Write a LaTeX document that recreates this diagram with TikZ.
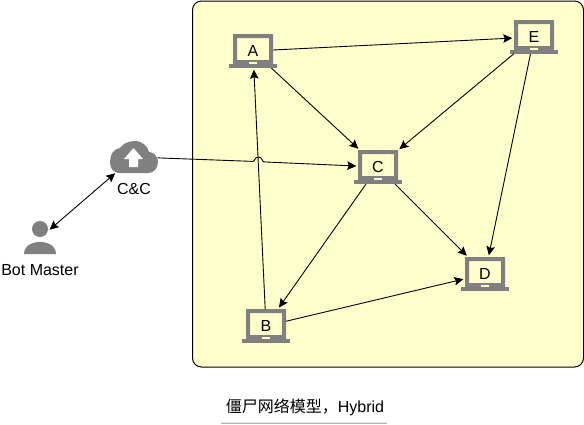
\documentclass[tikz,border=0pt]{standalone}
\usepackage{fontspec}
\setmainfont{Liberation Sans}
\newfontfamily\cjkfont{Noto Sans CJK SC}
\usepackage{xcolor}
\usetikzlibrary{arrows.meta, positioning}

\definecolor{iconfill}{HTML}{808080}
\definecolor{zonefill}{HTML}{FFFFCC}

\begin{document}
\begin{tikzpicture}[
    x=1pt, y=-1pt,
    font=\fontsize{16}{18}\selectfont,
    host/.style   = {rectangle, inner sep=0pt,
                     minimum width=40pt, minimum height=34pt},
    zone/.style   = {draw=black, fill=zonefill, line width=1pt,
                     rounded corners=9pt},
    arrow/.style  = {-{Stealth[length=9pt, width=8.5pt, inset=1.5pt]},
                     line width=0.9pt, shorten >=1.5pt},
    biarrow/.style = {{Stealth[length=9pt, width=8.5pt, inset=1.5pt]}-{Stealth[length=9pt, width=8.5pt, inset=1.5pt]},
                     line width=0.9pt},
    laptop/.pic   = {
        \fill[iconfill, even odd rule] (-20,-17) rectangle (20,13)
            (-16,-13) rectangle (16,9);
        \fill[iconfill] (-24,13) rectangle (24,17);
        \fill[iconfill] (-20,9) rectangle (20,13);
        \fill[zonefill] (-4,10.5) rectangle (4,12.5);
    }
]
\useasboundingbox (0,0) rectangle (584,424);

%% Network zone
\draw[zone] (192.5,1) rectangle (583.5,367);

%% Hosts
\pic at (253,51)  {laptop};
\pic at (534,37)  {laptop};
\pic at (378,167) {laptop};
\pic at (485,274) {laptop};
\pic at (266,326) {laptop};
\node[host] (hostA) at (253,51)  {A};
\node[host] (hostE) at (534,37)  {E};
\node[host] (hostC) at (378,167) {C};
\node[host] (hostD) at (485,274) {D};
\node[host] (hostB) at (266,326) {B};

%% C&C cloud
\fill[iconfill] (120,173) .. controls (113,173) and (110,168) .. (110,162)
    .. controls (110,155) and (113,149) .. (120,148)
    .. controls (123,144) and (128,141) .. (135,141)
    .. controls (143,141) and (148,147) .. (149,152)
    .. controls (154,152) and (158,157) .. (158,162)
    .. controls (158,168) and (154,173) .. (148,173) -- cycle;
\fill[white] (133.5,148) -- (143,159) -- (138,159) -- (138,167)
    -- (129,167) -- (129,159) -- (124,159) -- cycle;
\node[rectangle, inner sep=0pt, minimum width=47pt, minimum height=32pt]
    (cnc) at (134,157) {};
\node[inner sep=0pt] (cnclabel) at (134,189) {C\&C};

%% Bot master
\fill[iconfill] (40,229) circle (8);
\fill[iconfill] (24,254) .. controls (24,246) and (32,242) .. (40,242)
    .. controls (48,242) and (56,246) .. (56,254) -- cycle;
\node[circle, inner sep=0pt, minimum size=25pt] (master) at (40,238) {};
\node[inner sep=0pt] (masterlabel) at (40,270) {Bot Master};

%% Arrows
\draw[arrow] (hostA) -- (hostE);
\draw[arrow] (hostA) -- (hostC);
\draw[arrow] (hostE) -- (hostC);
\draw[arrow] (hostE) -- (hostD);
\draw[arrow] (hostC) -- (hostD);
\draw[arrow] (hostC) -- (hostB);
\draw[arrow] (hostB) -- (hostA);
\draw[arrow] (hostB) -- (hostD);
\draw[biarrow] (master) -- (cnc);

%% Line hop over B to A
\coordinate (hopin)  at (253,161.4);
\coordinate (hopout) at (264,161.9);
\draw[arrow] (cnc) -- (hopin)
    .. controls (255,161.4) and (254.5,157) .. (258.5,157)
    .. controls (262.5,157) and (262,161.9) .. (hopout) -- (hostC);

%% Caption
\fill[black!8] (221,421.5) rectangle (387,424);
\fill[black!30] (221,423) rectangle (387,424);
\node[inner sep=0pt] (caption) at (305,407)
    {{\cjkfont 僵尸网络模型，}Hybrid};
\end{tikzpicture}
\end{document}
